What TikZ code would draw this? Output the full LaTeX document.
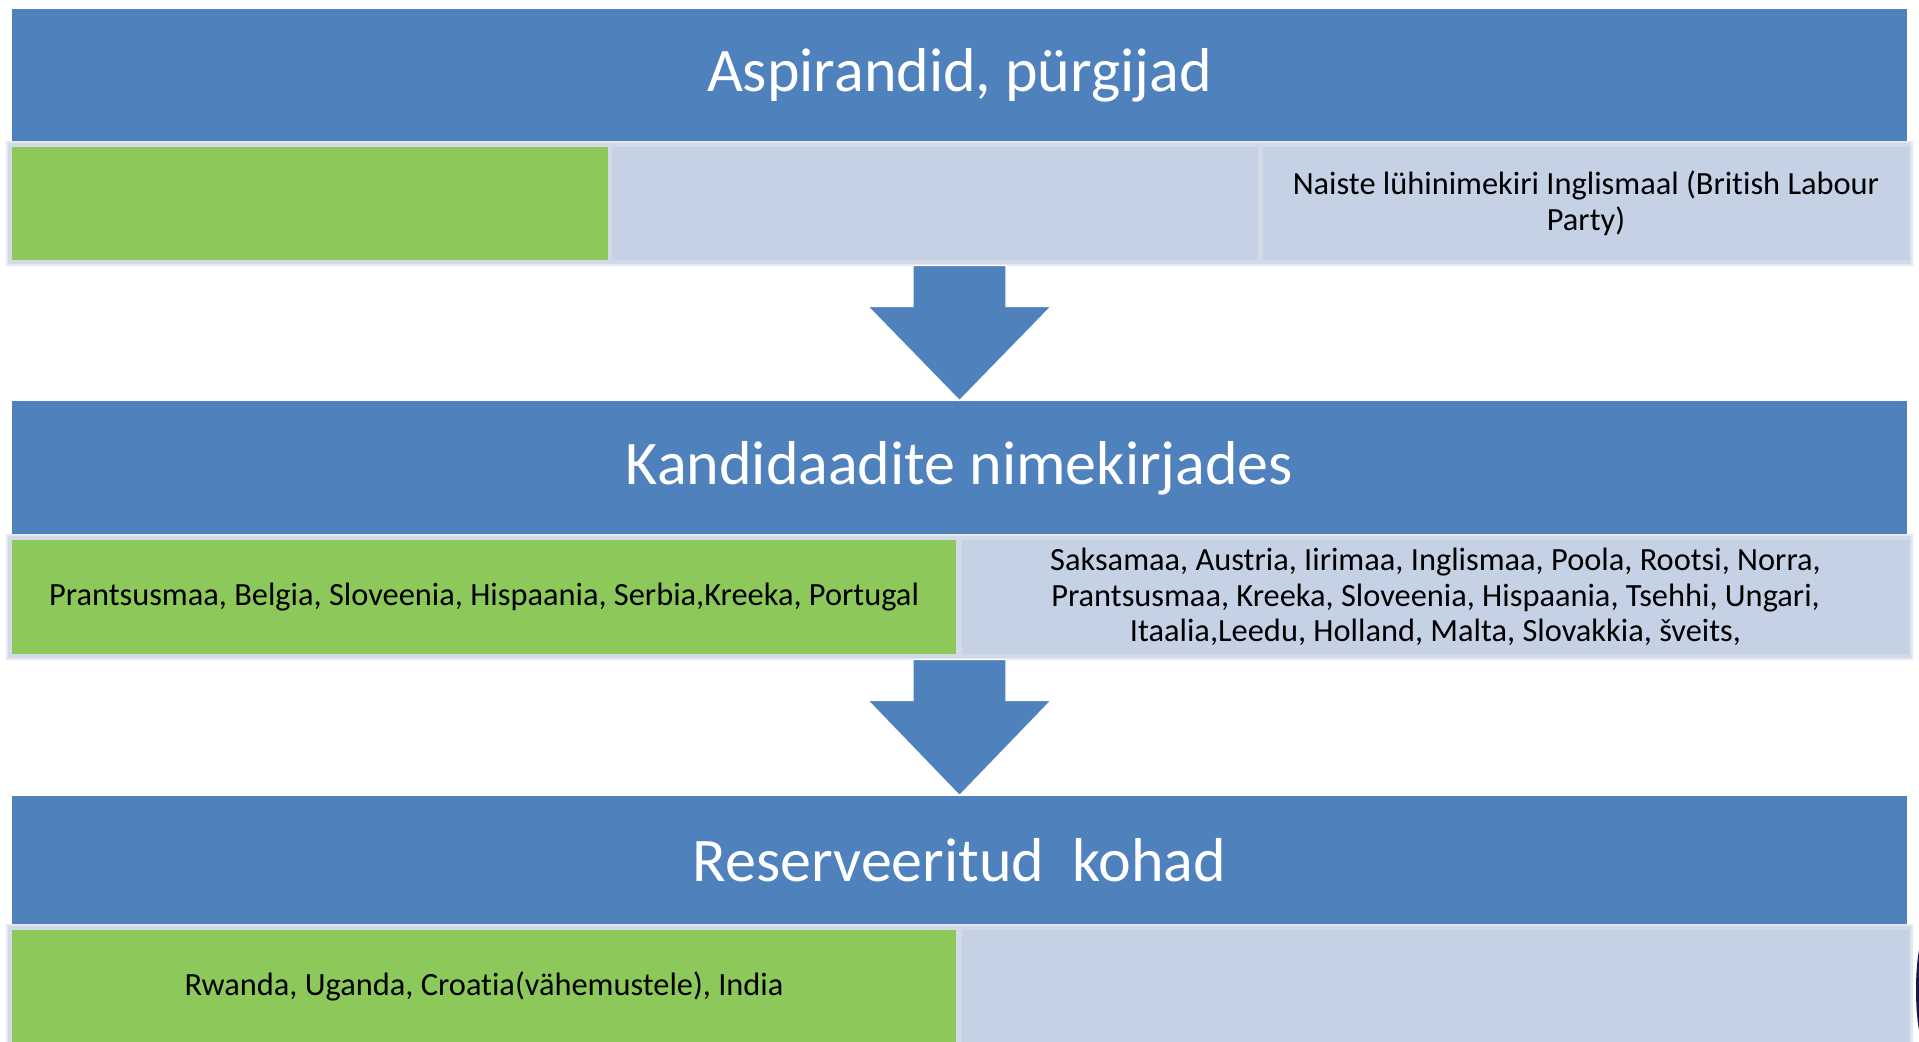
\documentclass[tikz,border=0pt]{standalone}
\usepackage{fontspec}
\setmainfont{Carlito}[Ligatures=NoCommon]
\usepackage{tikz}
\usetikzlibrary{calc}

\definecolor{barblue}{HTML}{4F81BD}
\definecolor{boxgreen}{HTML}{8DC85B}
\definecolor{boxgrey}{HTML}{C5D1E4}
\definecolor{rowgrey}{HTML}{D2DAE7}
\definecolor{inkdark}{HTML}{1B1645}

\tikzset{
    titlebar/.style={rectangle, fill=barblue, inner sep=0pt, minimum width=947.5pt, text=white, font=\fontsize{31}{37}\selectfont},
    rowstrip/.style={rectangle, fill=rowgrey, draw=rowgrey!60!white, line width=0.6pt, inner sep=0pt, minimum width=952.5pt},
    greenbox/.style={rectangle, fill=boxgreen, inner sep=0pt, align=center, font=\fontsize{16.2}{17.75}\selectfont},
    greybox/.style={rectangle, fill=boxgrey, inner sep=0pt, align=center, font=\fontsize{16.2}{17.75}\selectfont},
    blockarrow/.style={fill=barblue, draw=white, line width=0.6pt}
}

\begin{document}
\begin{tikzpicture}[x=0.5pt, y=-0.5pt]
        \useasboundingbox (0,0) rectangle (1919,1041);
        % Nodes
        \node[titlebar, minimum height=66.5pt] (aspirant) at (959.5, 75.5) {Aspirandid, pürgijad};
        \node[rowstrip, minimum height=61.5pt] (row1) at (959.5, 203.5) {};
        \node[greenbox, minimum width=298pt, minimum height=56.5pt] (green1) at (310, 203.5) {};
        \node[greybox, minimum width=323pt, minimum height=56.5pt] (middle1) at (935, 203.5) {};
        \node[greybox, minimum width=323pt, minimum height=56.5pt] (labour) at (1586, 203.5) {Naiste lühinimekiri Inglismaal (British Labour\\Party)};

        \node[titlebar, minimum height=67pt] (kandidaat) at (959.5, 468) {Kandidaadite nimekirjades};
        \node[rowstrip, minimum height=62pt] (row2) at (959.5, 597) {};
        \node[greenbox, minimum width=472pt, minimum height=57pt] (green2) at (484, 597) {Prantsusmaa, Belgia, Sloveenia, Hispaania, Serbia,Kreeka, Portugal};
        \node[greybox, minimum width=473.5pt, minimum height=57pt] (lists) at (1435.5, 597) {Saksamaa, Austria, Iirimaa, Inglismaa, Poola, Rootsi, Norra,\\Prantsusmaa, Kreeka, Sloveenia, Hispaania, Tsehhi, Ungari,\\Itaalia,Leedu, Holland, Malta, Slovakkia, šveits,};

        \node[titlebar, minimum height=64pt] (reserv) at (959.5, 860) {Reserveeritud\ \ kohad};
        \node[rowstrip, minimum height=61pt] (row3) at (959.5, 986) {};
        \node[greenbox, minimum width=472pt, minimum height=56pt] (green3) at (484, 986) {Rwanda, Uganda, Croatia(vähemustele), India};
        \node[greybox, minimum width=473.5pt, minimum height=56pt] (seats) at (1435.5, 986) {};

        % Arrows
        \fill[blockarrow] ($(row1.south)+(-46.5,0)$) -- ($(row1.south)+(46.5,0)$) -- ($(row1.south)+(46.5,41)$) -- ($(row1.south)+(91.5,41)$)
            -- (kandidaat.north) -- ($(row1.south)+(-91.5,41)$) -- ($(row1.south)+(-46.5,41)$) -- cycle;
        \fill[blockarrow] ($(row2.south)+(-46.5,0)$) -- ($(row2.south)+(46.5,0)$) -- ($(row2.south)+(46.5,41)$) -- ($(row2.south)+(91.5,41)$)
            -- (reserv.north) -- ($(row2.south)+(-91.5,41)$) -- ($(row2.south)+(-46.5,41)$) -- cycle;

        % edge mark
        \fill[inkdark] (1926, 990) ellipse [x radius=10, y radius=56];
\end{tikzpicture}
\end{document}
